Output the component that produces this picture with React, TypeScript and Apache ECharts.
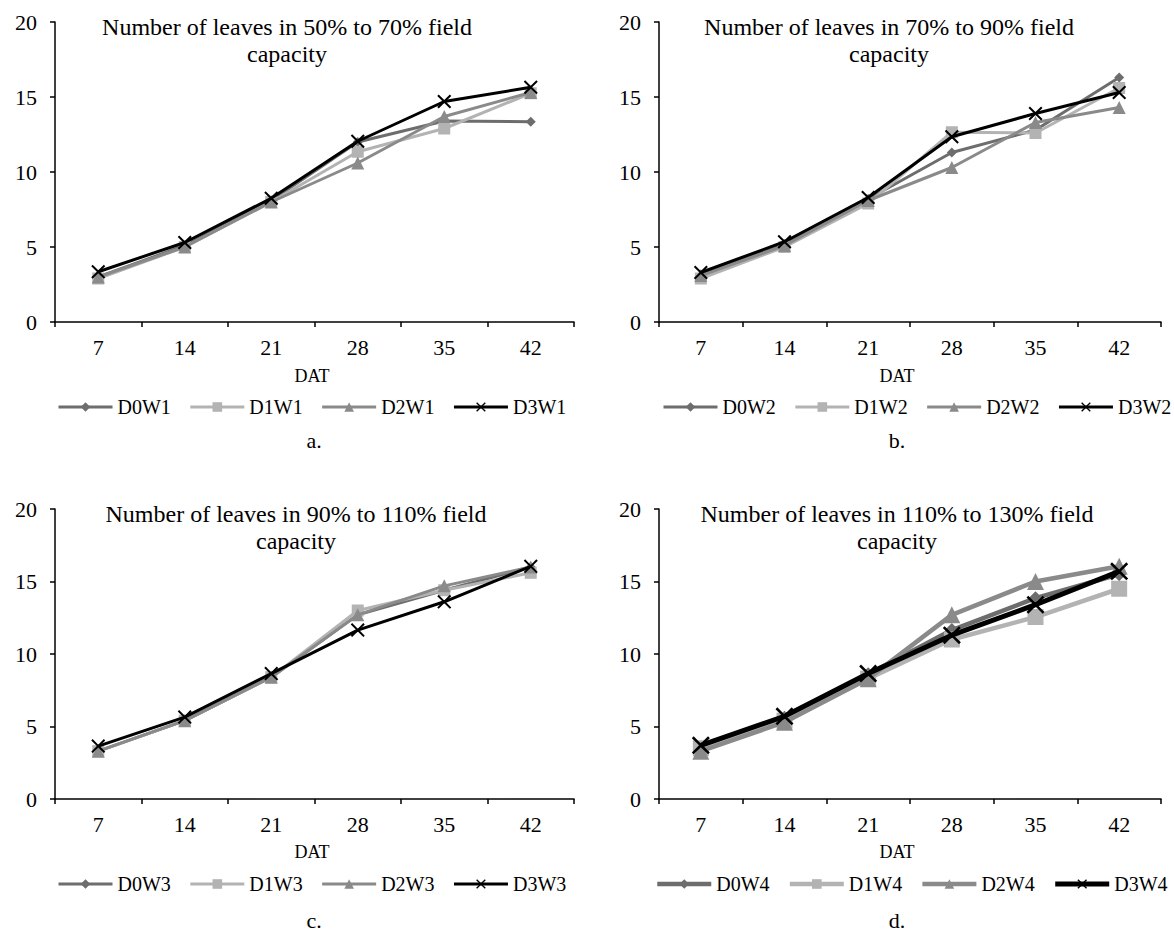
import { useEffect, useRef } from "react";
import * as echarts from "echarts";

const categories = ["7", "14", "21", "28", "35", "42"];
const yTicks = [0, 5, 10, 15, 20];

const D0W1 = [3.0, 5.1, 8.1, 12.0, 13.4, 13.35];
const D1W1 = [2.9, 5.0, 8.0, 11.35, 12.9, 15.25];
const D2W1 = [3.0, 5.0, 8.0, 10.6, 13.7, 15.3];
const D3W1 = [3.35, 5.3, 8.25, 12.05, 14.7, 15.65];

const D0W2 = [3.1, 5.2, 8.2, 11.3, 12.8, 16.3];
const D1W2 = [2.9, 5.0, 7.9, 12.65, 12.6, 15.6];
const D2W2 = [3.1, 5.1, 8.1, 10.3, 13.3, 14.3];
const D3W2 = [3.3, 5.35, 8.3, 12.35, 13.9, 15.3];

const D0W3 = [3.3, 5.4, 8.4, 12.7, 14.4, 16.0];
const D1W3 = [3.3, 5.4, 8.4, 13.0, 14.4, 15.6];
const D2W3 = [3.3, 5.4, 8.4, 12.7, 14.7, 16.0];
const D3W3 = [3.65, 5.65, 8.65, 11.65, 13.6, 16.05];

const D0W4 = [3.5, 5.6, 8.6, 11.65, 13.85, 15.5];
const D1W4 = [3.5, 5.4, 8.3, 11.0, 12.55, 14.5];
const D2W4 = [3.3, 5.3, 8.3, 12.7, 15.0, 16.05];
const D3W4 = [3.7, 5.7, 8.65, 11.3, 13.4, 15.7];

const titles = [
  "Number of leaves in 50% to 70% field\ncapacity",
  "Number of leaves in 70% to 90% field\ncapacity",
  "Number of leaves in 90% to 110% field\ncapacity",
  "Number of leaves in 110% to 130% field\ncapacity",
];
const panelLetters = ["a.", "b.", "c.", "d."];
const axisName = "DAT";

const panels = [
  { names: ["D0W1", "D1W1", "D2W1", "D3W1"], values: [D0W1, D1W1, D2W1, D3W1] },
  { names: ["D0W2", "D1W2", "D2W2", "D3W2"], values: [D0W2, D1W2, D2W2, D3W2] },
  { names: ["D0W3", "D1W3", "D2W3", "D3W3"], values: [D0W3, D1W3, D2W3, D3W3] },
  { names: ["D0W4", "D1W4", "D2W4", "D3W4"], values: [D0W4, D1W4, D2W4, D3W4] },
];

const FONT = "'Liberation Serif', 'Times New Roman', 'DejaVu Serif', serif";
const colors = ["#6d6d6d", "#b3b3b3", "#8a8a8a", "#000000"];
const CROSS = "path://M1,0 L5,4 L9,0 L10,1 L6,5 L10,9 L9,10 L5,6 L1,10 L0,9 L4,5 L0,1 Z";
const symbols = ["diamond", "rect", "triangle", CROSS];

const layout = [
  { left: 55, top: 22, width: 519, height: 300, titleX: 287, titleY: 40.5, datX: 312, datY: 376, legLeft: 57, legTop: 397, letX: 314, letY: 440 },
  { left: 659, top: 22, width: 502, height: 300, titleX: 889, titleY: 40.5, datX: 897, datY: 376, legLeft: 662, legTop: 397, letX: 897, letY: 440 },
  { left: 55, top: 509, width: 519, height: 290, titleX: 296, titleY: 527.5, datX: 312, datY: 852, legLeft: 57, legTop: 874, letX: 314, letY: 920 },
  { left: 659, top: 509, width: 502, height: 290, titleX: 897, titleY: 527.5, datX: 897, datY: 852, legLeft: 655, legTop: 874, letX: 897, letY: 920 },
];

export default function App() {
  const ref = useRef<HTMLDivElement>(null);
  useEffect(() => {
    if (!ref.current) return;
    const chart = echarts.init(ref.current, null, { renderer: "svg" });
    const grid: any[] = [];
    const xAxis: any[] = [];
    const yAxis: any[] = [];
    const series: any[] = [];
    const legend: any[] = [];
    const graphic: any[] = [];
    panels.forEach((p, i) => {
      const L = layout[i];
      const thick = i === 3;
      grid.push({ left: L.left, top: L.top, width: L.width, height: L.height, containLabel: false });
      xAxis.push({
        type: "category",
        gridIndex: i,
        data: categories,
        boundaryGap: true,
        axisLine: { lineStyle: { color: "#000", width: 1.5 } },
        axisTick: { show: true, inside: false, length: 5, alignWithLabel: false, lineStyle: { color: "#000", width: 1.5 } },
        axisLabel: { color: "#000", fontFamily: FONT, fontSize: 22, margin: 14 },
        splitLine: { show: false },
      });
      yAxis.push({
        type: "value",
        gridIndex: i,
        min: yTicks[0],
        max: yTicks[yTicks.length - 1],
        interval: 5,
        axisLine: { show: true, lineStyle: { color: "#000", width: 1.5 } },
        axisTick: { show: true, inside: false, length: 5, lineStyle: { color: "#000", width: 1.5 } },
        axisLabel: { color: "#000", fontFamily: FONT, fontSize: 22, margin: 18 },
        splitLine: { show: false },
      });
      p.names.forEach((name, k) => {
        const isCross = k === 3;
        const baseSize = k === 0 ? 10 : k === 1 ? 12 : k === 2 ? 13 : 14;
        series.push({
          type: "line",
          name,
          xAxisIndex: i,
          yAxisIndex: i,
          data: p.values[k],
          symbol: symbols[k],
          symbolSize: thick ? baseSize + 4 : baseSize,
          symbolKeepAspect: true,
          lineStyle: { color: colors[k], width: thick ? (isCross ? 5 : 4.5) : 3 },
          itemStyle: { color: colors[k], borderWidth: 0 },
          emphasis: { disabled: true },
          z: 2 + k,
        });
      });
      legend.push({
        data: p.names,
        left: L.legLeft,
        top: L.legTop,
        orient: "horizontal",
        padding: 0,
        itemWidth: 54,
        itemHeight: 12,
        itemGap: 18,
        selectedMode: false,
        lineStyle: { width: "inherit" },
        textStyle: { color: "#000", fontFamily: FONT, fontSize: 20 },
      });
      graphic.push({
        type: "text",
        x: L.titleX,
        y: L.titleY,
        style: {
          text: titles[i],
          fill: "#000",
          fontFamily: FONT,
          fontSize: 24,
          align: "center",
          verticalAlign: "middle",
          lineHeight: 27,
        },
      });
      graphic.push({
        type: "text",
        x: L.datX,
        y: L.datY,
        style: { text: axisName, fill: "#000", fontFamily: FONT, fontSize: 18, align: "center", verticalAlign: "middle" },
      });
      graphic.push({
        type: "text",
        x: L.letX,
        y: L.letY,
        style: { text: panelLetters[i], fill: "#000", fontFamily: FONT, fontSize: 22, align: "center", verticalAlign: "middle" },
      });
    });
    chart.setOption({
      animation: false,
      backgroundColor: "#ffffff",
      grid,
      xAxis,
      yAxis,
      series,
      legend,
      graphic,
    });
    return () => chart.dispose();
  }, []);
  return (
    <div
      ref={ref}
      style={{ position: "absolute", left: 0, top: 0, width: 1174, height: 935, background: "#fff" }}
    />
  );
}
